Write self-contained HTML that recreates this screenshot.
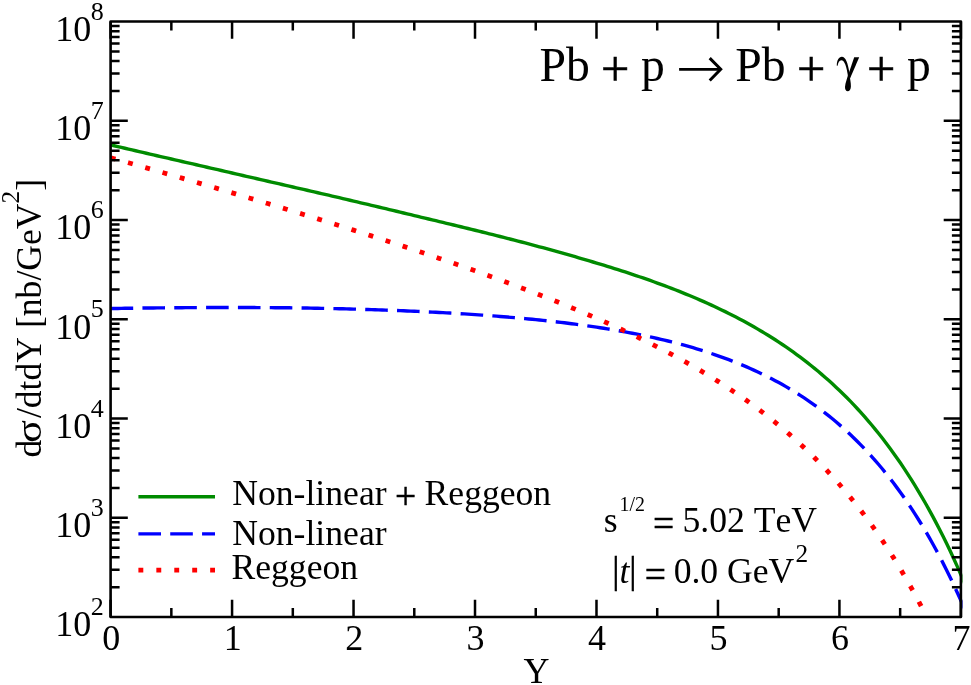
<!DOCTYPE html>
<html><head><meta charset="utf-8"><title>plot</title>
<style>html,body{margin:0;padding:0;background:#fff;}body{width:971px;height:685px;overflow:hidden;font-family:"Liberation Serif",serif;}svg{display:block;will-change:transform;}</style>
</head><body>
<svg width="971" height="685" viewBox="0 0 971 685">
<rect width="971" height="685" fill="#fff"/>
<defs><clipPath id="cp"><rect x="108.60" y="20.55" width="853.90" height="597.45"/></clipPath></defs>
<g clip-path="url(#cp)" fill="none" stroke-linejoin="round">
<path d="M110.60 144.93 L114.17 145.76 L117.75 146.59 L121.32 147.43 L124.89 148.26 L128.47 149.09 L132.04 149.92 L135.61 150.75 L139.19 151.58 L142.76 152.41 L146.33 153.24 L149.91 154.07 L153.48 154.89 L157.05 155.72 L160.63 156.55 L164.20 157.37 L167.77 158.20 L171.35 159.02 L174.92 159.84 L178.49 160.67 L182.07 161.49 L185.64 162.31 L189.21 163.13 L192.79 163.95 L196.36 164.77 L199.93 165.59 L203.51 166.41 L207.08 167.23 L210.65 168.05 L214.23 168.88 L217.80 169.71 L221.37 170.53 L224.95 171.36 L228.52 172.18 L232.09 173.01 L235.66 173.83 L239.24 174.65 L242.81 175.48 L246.38 176.30 L249.96 177.12 L253.53 177.95 L257.10 178.77 L260.68 179.59 L264.25 180.41 L267.82 181.24 L271.40 182.06 L274.97 182.88 L278.54 183.70 L282.12 184.52 L285.69 185.34 L289.26 186.17 L292.84 186.99 L296.41 187.81 L299.98 188.63 L303.56 189.45 L307.13 190.27 L310.70 191.10 L314.28 191.92 L317.85 192.74 L321.42 193.56 L325.00 194.39 L328.57 195.21 L332.14 196.04 L335.72 196.88 L339.29 197.72 L342.86 198.56 L346.44 199.41 L350.01 200.25 L353.58 201.09 L357.16 201.93 L360.73 202.78 L364.30 203.62 L367.88 204.47 L371.45 205.32 L375.02 206.16 L378.60 207.01 L382.17 207.86 L385.74 208.71 L389.32 209.56 L392.89 210.41 L396.46 211.27 L400.04 212.12 L403.61 212.98 L407.18 213.84 L410.76 214.69 L414.33 215.55 L417.90 216.42 L421.48 217.28 L425.05 218.15 L428.62 219.01 L432.20 219.87 L435.77 220.72 L439.34 221.58 L442.92 222.43 L446.49 223.29 L450.06 224.15 L453.64 225.01 L457.21 225.88 L460.78 226.75 L464.36 227.62 L467.93 228.49 L471.50 229.37 L475.08 230.25 L478.65 231.13 L482.22 232.02 L485.79 232.91 L489.37 233.80 L492.94 234.70 L496.51 235.60 L500.09 236.50 L503.66 237.41 L507.23 238.32 L510.81 239.24 L514.38 240.16 L517.95 241.09 L521.53 242.02 L525.10 242.96 L528.67 243.90 L532.25 244.85 L535.82 245.81 L539.39 246.77 L542.97 247.73 L546.54 248.70 L550.11 249.68 L553.69 250.67 L557.26 251.66 L560.83 252.66 L564.41 253.66 L567.98 254.68 L571.55 255.70 L575.13 256.73 L578.70 257.77 L582.27 258.82 L585.85 259.87 L589.42 260.94 L592.99 262.00 L596.57 263.06 L600.14 264.14 L603.71 265.22 L607.29 266.32 L610.86 267.43 L614.43 268.55 L618.01 269.68 L621.58 270.82 L625.15 271.98 L628.73 273.15 L632.30 274.33 L635.87 275.53 L639.45 276.74 L643.02 277.97 L646.59 279.21 L650.17 280.47 L653.74 281.75 L657.31 283.04 L660.89 284.35 L664.46 285.67 L668.03 287.02 L671.61 288.39 L675.18 289.77 L678.75 291.18 L682.33 292.60 L685.90 294.05 L689.47 295.52 L693.05 297.02 L696.62 298.53 L700.19 300.07 L703.77 301.64 L707.34 303.24 L710.91 304.86 L714.49 306.51 L718.06 308.19 L721.63 309.91 L725.20 311.65 L728.78 313.42 L732.35 315.23 L735.92 317.07 L739.50 318.94 L743.07 320.85 L746.64 322.79 L750.22 324.77 L753.79 326.79 L757.36 328.86 L760.94 330.96 L764.51 333.10 L768.08 335.29 L771.66 337.52 L775.23 339.80 L778.80 342.13 L782.38 344.50 L785.95 346.93 L789.52 349.41 L793.10 351.94 L796.67 354.52 L800.24 357.17 L803.82 359.87 L807.39 362.63 L810.96 365.46 L814.54 368.35 L818.11 371.31 L821.68 374.33 L825.26 377.43 L828.83 380.59 L832.40 383.83 L835.98 387.14 L839.55 390.52 L843.12 393.99 L846.70 397.55 L850.27 401.18 L853.84 404.91 L857.42 408.73 L860.99 412.65 L864.56 416.66 L868.14 420.77 L871.71 424.99 L875.28 429.31 L878.86 433.75 L882.43 438.29 L886.00 442.95 L889.58 447.73 L893.15 452.64 L896.72 457.67 L900.30 462.84 L903.87 468.14 L907.44 473.57 L911.02 479.16 L914.59 484.88 L918.16 490.76 L921.74 496.80 L925.31 503.00 L928.88 509.37 L932.46 515.90 L936.03 522.61 L939.60 529.51 L943.18 536.59 L946.75 543.86 L950.32 551.33 L953.90 559.01 L957.47 566.90 L961.04 575.00 L964.62 583.35 L968.19 591.92" stroke="#008b00" stroke-width="3.4"/>
<path d="M110.60 308.55 L114.17 308.49 L117.75 308.43 L121.32 308.37 L124.89 308.32 L128.47 308.26 L132.04 308.21 L135.61 308.16 L139.19 308.12 L142.76 308.07 L146.33 308.03 L149.91 307.98 L153.48 307.94 L157.05 307.90 L160.63 307.87 L164.20 307.83 L167.77 307.80 L171.35 307.77 L174.92 307.74 L178.49 307.71 L182.07 307.69 L185.64 307.66 L189.21 307.64 L192.79 307.62 L196.36 307.60 L199.93 307.59 L203.51 307.57 L207.08 307.56 L210.65 307.55 L214.23 307.53 L217.80 307.53 L221.37 307.52 L224.95 307.52 L228.52 307.51 L232.09 307.51 L235.66 307.52 L239.24 307.52 L242.81 307.53 L246.38 307.54 L249.96 307.55 L253.53 307.56 L257.10 307.58 L260.68 307.59 L264.25 307.61 L267.82 307.64 L271.40 307.66 L274.97 307.69 L278.54 307.72 L282.12 307.75 L285.69 307.78 L289.26 307.82 L292.84 307.86 L296.41 307.90 L299.98 307.94 L303.56 308.00 L307.13 308.06 L310.70 308.12 L314.28 308.19 L317.85 308.26 L321.42 308.33 L325.00 308.40 L328.57 308.48 L332.14 308.56 L335.72 308.64 L339.29 308.72 L342.86 308.81 L346.44 308.90 L350.01 308.99 L353.58 309.09 L357.16 309.19 L360.73 309.29 L364.30 309.40 L367.88 309.51 L371.45 309.62 L375.02 309.74 L378.60 309.86 L382.17 309.98 L385.74 310.11 L389.32 310.24 L392.89 310.37 L396.46 310.51 L400.04 310.65 L403.61 310.79 L407.18 310.94 L410.76 311.09 L414.33 311.25 L417.90 311.41 L421.48 311.58 L425.05 311.74 L428.62 311.92 L432.20 312.10 L435.77 312.28 L439.34 312.47 L442.92 312.66 L446.49 312.85 L450.06 313.05 L453.64 313.26 L457.21 313.47 L460.78 313.69 L464.36 313.91 L467.93 314.14 L471.50 314.37 L475.08 314.61 L478.65 314.85 L482.22 315.10 L485.79 315.36 L489.37 315.62 L492.94 315.89 L496.51 316.16 L500.09 316.44 L503.66 316.73 L507.23 317.03 L510.81 317.33 L514.38 317.64 L517.95 317.95 L521.53 318.28 L525.10 318.61 L528.67 318.95 L532.25 319.29 L535.82 319.65 L539.39 320.01 L542.97 320.39 L546.54 320.77 L550.11 321.16 L553.69 321.56 L557.26 321.97 L560.83 322.38 L564.41 322.81 L567.98 323.25 L571.55 323.70 L575.13 324.16 L578.70 324.64 L582.27 325.12 L585.85 325.61 L589.42 326.12 L592.99 326.64 L596.57 327.17 L600.14 327.71 L603.71 328.27 L607.29 328.84 L610.86 329.43 L614.43 330.03 L618.01 330.64 L621.58 331.27 L625.15 331.91 L628.73 332.58 L632.30 333.25 L635.87 333.95 L639.45 334.66 L643.02 335.39 L646.59 336.13 L650.17 336.90 L653.74 337.68 L657.31 338.49 L660.89 339.31 L664.46 340.16 L668.03 341.02 L671.61 341.91 L675.18 342.82 L678.75 343.76 L682.33 344.72 L685.90 345.70 L689.47 346.71 L693.05 347.74 L696.62 348.80 L700.19 349.89 L703.77 351.01 L707.34 352.15 L710.91 353.33 L714.49 354.53 L718.06 355.77 L721.63 357.04 L725.20 358.34 L728.78 359.68 L732.35 361.05 L735.92 362.46 L739.50 363.90 L743.07 365.39 L746.64 366.91 L750.22 368.47 L753.79 370.08 L757.36 371.73 L760.94 373.42 L764.51 375.16 L768.08 376.94 L771.66 378.77 L775.23 380.66 L778.80 382.59 L782.38 384.57 L785.95 386.61 L789.52 388.71 L793.10 390.86 L796.67 393.07 L800.24 395.34 L803.82 397.67 L807.39 400.07 L810.96 402.53 L814.54 405.06 L818.11 407.66 L821.68 410.34 L825.26 413.08 L828.83 415.90 L832.40 418.80 L835.98 421.78 L839.55 424.85 L843.12 428.00 L846.70 431.23 L850.27 434.56 L853.84 437.98 L857.42 441.50 L860.99 445.11 L864.56 448.83 L868.14 452.65 L871.71 456.57 L875.28 460.61 L878.86 464.76 L882.43 469.03 L886.00 473.42 L889.58 477.94 L893.15 482.58 L896.72 487.36 L900.30 492.27 L903.87 497.32 L907.44 502.51 L911.02 507.85 L914.59 513.34 L918.16 519.00 L921.74 524.81 L925.31 530.79 L928.88 536.94 L932.46 543.26 L936.03 549.77 L939.60 556.46 L943.18 563.35 L946.75 570.43 L950.32 577.72 L953.90 585.22 L957.47 592.94 L961.04 600.87 L964.62 609.04 L968.19 617.44" stroke="#0000ff" stroke-width="3.4" stroke-dasharray="22.6 9.23"/>
<path d="M110.60 157.74 L114.17 158.75 L117.75 159.76 L121.32 160.77 L124.89 161.78 L128.47 162.79 L132.04 163.80 L135.61 164.82 L139.19 165.84 L142.76 166.85 L146.33 167.87 L149.91 168.90 L153.48 169.92 L157.05 170.94 L160.63 171.97 L164.20 173.00 L167.77 174.03 L171.35 175.06 L174.92 176.09 L178.49 177.13 L182.07 178.16 L185.64 179.20 L189.21 180.24 L192.79 181.28 L196.36 182.32 L199.93 183.37 L203.51 184.42 L207.08 185.46 L210.65 186.51 L214.23 187.57 L217.80 188.62 L221.37 189.67 L224.95 190.73 L228.52 191.79 L232.09 192.85 L235.66 193.91 L239.24 194.98 L242.81 196.04 L246.38 197.11 L249.96 198.18 L253.53 199.25 L257.10 200.33 L260.68 201.40 L264.25 202.48 L267.82 203.56 L271.40 204.64 L274.97 205.73 L278.54 206.81 L282.12 207.90 L285.69 208.99 L289.26 210.08 L292.84 211.18 L296.41 212.27 L299.98 213.37 L303.56 214.47 L307.13 215.58 L310.70 216.68 L314.28 217.79 L317.85 218.90 L321.42 220.02 L325.00 221.13 L328.57 222.25 L332.14 223.37 L335.72 224.49 L339.29 225.62 L342.86 226.75 L346.44 227.88 L350.01 229.01 L353.58 230.15 L357.16 231.29 L360.73 232.43 L364.30 233.58 L367.88 234.73 L371.45 235.88 L375.02 237.03 L378.60 238.19 L382.17 239.35 L385.74 240.51 L389.32 241.68 L392.89 242.85 L396.46 244.02 L400.04 245.20 L403.61 246.38 L407.18 247.57 L410.76 248.76 L414.33 249.95 L417.90 251.14 L421.48 252.34 L425.05 253.55 L428.62 254.75 L432.20 255.96 L435.77 257.18 L439.34 258.40 L442.92 259.62 L446.49 260.85 L450.06 262.09 L453.64 263.33 L457.21 264.57 L460.78 265.82 L464.36 267.07 L467.93 268.33 L471.50 269.59 L475.08 270.86 L478.65 272.13 L482.22 273.41 L485.79 274.70 L489.37 275.99 L492.94 277.28 L496.51 278.59 L500.09 279.90 L503.66 281.21 L507.23 282.54 L510.81 283.86 L514.38 285.20 L517.95 286.54 L521.53 287.89 L525.10 289.25 L528.67 290.62 L532.25 291.99 L535.82 293.37 L539.39 294.76 L542.97 296.15 L546.54 297.56 L550.11 298.97 L553.69 300.40 L557.26 301.83 L560.83 303.27 L564.41 304.72 L567.98 306.19 L571.55 307.66 L575.13 309.14 L578.70 310.63 L582.27 312.14 L585.85 313.65 L589.42 315.18 L592.99 316.72 L596.57 318.27 L600.14 319.84 L603.71 321.41 L607.29 323.00 L610.86 324.61 L614.43 326.23 L618.01 327.86 L621.58 329.51 L625.15 331.17 L628.73 332.85 L632.30 334.54 L635.87 336.25 L639.45 337.98 L643.02 339.72 L646.59 341.48 L650.17 343.26 L653.74 345.06 L657.31 346.88 L660.89 348.72 L664.46 350.58 L668.03 352.46 L671.61 354.36 L675.18 356.29 L678.75 358.24 L682.33 360.21 L685.90 362.20 L689.47 364.22 L693.05 366.27 L696.62 368.34 L700.19 370.44 L703.77 372.56 L707.34 374.72 L710.91 376.90 L714.49 379.12 L718.06 381.36 L721.63 383.64 L725.20 385.95 L728.78 388.30 L732.35 390.68 L735.92 393.09 L739.50 395.54 L743.07 398.03 L746.64 400.56 L750.22 403.13 L753.79 405.74 L757.36 408.40 L760.94 411.09 L764.51 413.84 L768.08 416.62 L771.66 419.46 L775.23 422.35 L778.80 425.28 L782.38 428.27 L785.95 431.31 L789.52 434.41 L793.10 437.56 L796.67 440.77 L800.24 444.04 L803.82 447.37 L807.39 450.77 L810.96 454.23 L814.54 457.76 L818.11 461.36 L821.68 465.03 L825.26 468.77 L828.83 472.59 L832.40 476.48 L835.98 480.46 L839.55 484.52 L843.12 488.66 L846.70 492.89 L850.27 497.21 L853.84 501.63 L857.42 506.14 L860.99 510.74 L864.56 515.45 L868.14 520.26 L871.71 525.18 L875.28 530.21 L878.86 535.35 L882.43 540.61 L886.00 545.99 L889.58 551.49 L893.15 557.12 L896.72 562.88 L900.30 568.78 L903.87 574.81 L907.44 580.99 L911.02 587.32 L914.59 593.79 L918.16 600.43 L921.74 607.22 L925.31 614.18 L928.88 621.31 L932.46 628.62 L936.03 636.10 L939.60 643.78 L943.18 651.64 L946.75 659.70 L950.32 667.97 L953.90 676.44 L957.47 685.13 L961.04 694.05 L964.62 703.19 L968.19 712.56" stroke="#ff0000" stroke-width="4.8" stroke-dasharray="4.9 13.04" stroke-dashoffset="-0.15"/>
</g>
<path d="M110.60 617.00 V599.80 M110.60 21.55 V38.75 M171.34 617.00 V608.00 M171.34 21.55 V30.55 M232.07 617.00 V599.80 M232.07 21.55 V38.75 M292.81 617.00 V608.00 M292.81 21.55 V30.55 M353.54 617.00 V599.80 M353.54 21.55 V38.75 M414.28 617.00 V608.00 M414.28 21.55 V30.55 M475.01 617.00 V599.80 M475.01 21.55 V38.75 M535.75 617.00 V608.00 M535.75 21.55 V30.55 M596.49 617.00 V599.80 M596.49 21.55 V38.75 M657.22 617.00 V608.00 M657.22 21.55 V30.55 M717.96 617.00 V599.80 M717.96 21.55 V38.75 M778.69 617.00 V608.00 M778.69 21.55 V30.55 M839.43 617.00 V599.80 M839.43 21.55 V38.75 M900.16 617.00 V608.00 M900.16 21.55 V30.55 M960.90 617.00 V599.80 M960.90 21.55 V38.75 M110.60 587.13 H119.60 M960.90 587.13 H951.90 M110.60 569.65 H119.60 M960.90 569.65 H951.90 M110.60 557.25 H119.60 M960.90 557.25 H951.90 M110.60 547.63 H119.60 M960.90 547.63 H951.90 M110.60 539.77 H119.60 M960.90 539.77 H951.90 M110.60 533.13 H119.60 M960.90 533.13 H951.90 M110.60 527.38 H119.60 M960.90 527.38 H951.90 M110.60 522.30 H119.60 M960.90 522.30 H951.90 M110.60 517.76 H127.80 M960.90 517.76 H943.70 M110.60 487.88 H119.60 M960.90 487.88 H951.90 M110.60 470.41 H119.60 M960.90 470.41 H951.90 M110.60 458.01 H119.60 M960.90 458.01 H951.90 M110.60 448.39 H119.60 M960.90 448.39 H951.90 M110.60 440.53 H119.60 M960.90 440.53 H951.90 M110.60 433.89 H119.60 M960.90 433.89 H951.90 M110.60 428.13 H119.60 M960.90 428.13 H951.90 M110.60 423.06 H119.60 M960.90 423.06 H951.90 M110.60 418.52 H127.80 M960.90 418.52 H943.70 M110.60 388.64 H119.60 M960.90 388.64 H951.90 M110.60 371.17 H119.60 M960.90 371.17 H951.90 M110.60 358.77 H119.60 M960.90 358.77 H951.90 M110.60 349.15 H119.60 M960.90 349.15 H951.90 M110.60 341.29 H119.60 M960.90 341.29 H951.90 M110.60 334.65 H119.60 M960.90 334.65 H951.90 M110.60 328.89 H119.60 M960.90 328.89 H951.90 M110.60 323.82 H119.60 M960.90 323.82 H951.90 M110.60 319.28 H127.80 M960.90 319.28 H943.70 M110.60 289.40 H119.60 M960.90 289.40 H951.90 M110.60 271.92 H119.60 M960.90 271.92 H951.90 M110.60 259.53 H119.60 M960.90 259.53 H951.90 M110.60 249.91 H119.60 M960.90 249.91 H951.90 M110.60 242.05 H119.60 M960.90 242.05 H951.90 M110.60 235.41 H119.60 M960.90 235.41 H951.90 M110.60 229.65 H119.60 M960.90 229.65 H951.90 M110.60 224.57 H119.60 M960.90 224.57 H951.90 M110.60 220.03 H127.80 M960.90 220.03 H943.70 M110.60 190.16 H119.60 M960.90 190.16 H951.90 M110.60 172.68 H119.60 M960.90 172.68 H951.90 M110.60 160.28 H119.60 M960.90 160.28 H951.90 M110.60 150.67 H119.60 M960.90 150.67 H951.90 M110.60 142.81 H119.60 M960.90 142.81 H951.90 M110.60 136.16 H119.60 M960.90 136.16 H951.90 M110.60 130.41 H119.60 M960.90 130.41 H951.90 M110.60 125.33 H119.60 M960.90 125.33 H951.90 M110.60 120.79 H127.80 M960.90 120.79 H943.70 M110.60 90.92 H119.60 M960.90 90.92 H951.90 M110.60 73.44 H119.60 M960.90 73.44 H951.90 M110.60 61.04 H119.60 M960.90 61.04 H951.90 M110.60 51.42 H119.60 M960.90 51.42 H951.90 M110.60 43.57 H119.60 M960.90 43.57 H951.90 M110.60 36.92 H119.60 M960.90 36.92 H951.90 M110.60 31.17 H119.60 M960.90 31.17 H951.90 M110.60 26.09 H119.60 M960.90 26.09 H951.90" stroke="#000" stroke-width="2.50" fill="none"/>
<rect x="110.60" y="21.55" width="850.30" height="595.45" fill="none" stroke="#000" stroke-width="2.60" stroke-linejoin="round"/>
<g font-family="'Liberation Serif', serif" fill="#000" style="font-kerning:none;font-variant-ligatures:none">
<text x="111.20" y="650" font-size="36" text-anchor="middle">0</text>
<text x="232.67" y="650" font-size="36" text-anchor="middle">1</text>
<text x="354.14" y="650" font-size="36" text-anchor="middle">2</text>
<text x="475.61" y="650" font-size="36" text-anchor="middle">3</text>
<text x="597.09" y="650" font-size="36" text-anchor="middle">4</text>
<text x="718.56" y="650" font-size="36" text-anchor="middle">5</text>
<text x="840.03" y="650" font-size="36" text-anchor="middle">6</text>
<text x="961.50" y="650" font-size="36" text-anchor="middle">7</text>
<text x="91.3" y="636.30" font-size="36" text-anchor="end">10</text>
<text x="90.8" y="615.20" font-size="26">2</text>
<text x="91.3" y="537.06" font-size="36" text-anchor="end">10</text>
<text x="90.8" y="515.96" font-size="26">3</text>
<text x="91.3" y="437.82" font-size="36" text-anchor="end">10</text>
<text x="90.8" y="416.72" font-size="26">4</text>
<text x="91.3" y="338.58" font-size="36" text-anchor="end">10</text>
<text x="90.8" y="317.48" font-size="26">5</text>
<text x="91.3" y="239.33" font-size="36" text-anchor="end">10</text>
<text x="90.8" y="218.23" font-size="26">6</text>
<text x="91.3" y="140.09" font-size="36" text-anchor="end">10</text>
<text x="90.8" y="118.99" font-size="26">7</text>
<text x="91.3" y="40.85" font-size="36" text-anchor="end">10</text>
<text x="90.8" y="19.75" font-size="26">8</text>
<text id="xlab" x="536.4" y="682.9" font-size="36" text-anchor="middle">Y</text>
<g transform="translate(40.5 457.5) rotate(-90)"><text id="ylab" x="0" y="0" font-size="35.62">d</text></g>
<g transform="translate(40.5 431.0) rotate(-90) scale(1.1846 1)"><text x="-10.01" y="0" font-size="35.62">σ</text></g>
<g transform="translate(40.5 418.1) rotate(-90)"><text x="0" y="0" font-size="35.62">/dtdY [nb/GeV<tspan font-size="25.3" dy="-21.3">2</tspan><tspan dy="21.3">]</tspan></text></g>
<text id="t1" x="539.5" y="81.4" font-size="47.6">Pb</text>
<text x="641.05" y="81.4" font-size="47.6">p</text>
<text id="t2" x="735.3" y="81.4" font-size="47.6">Pb</text>
<text id="t3" x="906.95" y="81.4" font-size="47.6">p</text>
<text x="601.04" y="85.50" font-size="50.30" stroke="#000" stroke-width="0.60">+</text>
<text x="797.04" y="85.50" font-size="50.30" stroke="#000" stroke-width="0.60">+</text>
<text x="867.04" y="85.50" font-size="50.30" stroke="#000" stroke-width="0.60">+</text>
<g><title>→</title>
<path d="M679.1 69.3 H721" stroke="#000" stroke-width="2.7" fill="none"/>
<path d="M709.7 58.1 L720.7 69.3 L709.7 80.5" stroke="#000" stroke-width="3" fill="none" stroke-linejoin="miter"/>
</g>
<g><title>γ</title>
<path d="M836.8 65.8 C836.8 60.5 838.8 56.8 841.8 56.8 C845.8 56.8 847.8 63 849.6 73.5 L848.3 78 C846.5 66 844.5 60.3 841.3 60.3 C839.3 60.3 838.2 62.5 837.6 65.8 Z"/>
<path d="M854.2 57.2 L859.2 57.2 L849.8 79 L848.0 75.5 Z"/>
<path d="M848.8 72 C850 78 851 83 850.9 86.5 C850.8 89.5 849.5 91.3 847.8 91.3 C846 91.3 844.9 89.6 845 87 C845.2 83 847.5 78 848.8 72 Z"/>
</g>
<text id="l1" x="232.3" y="505.1" font-size="35.62">Non-linear</text>
<text x="394.88" y="508.58" font-size="37.60" stroke="#000" stroke-width="0.45">+</text>
<text id="l1b" x="424.6" y="505.1" font-size="35.62">Reggeon</text>
<text id="l2" x="232.3" y="544.9" font-size="35.62">Non-linear</text>
<text id="l3" x="231.5" y="578.5" font-size="35.62">Reggeon</text>
<text id="a1" x="603.84" y="532.3" font-size="35.62">s</text>
<text x="619.45" y="511.10" font-size="19.9">1/2</text>
<text x="652.88" y="536.08" font-size="37.60" stroke="#000" stroke-width="0.45">=</text>
<text x="682.43" y="532.3" font-size="35.62">5.02 TeV</text>
<text x="612.09" y="583.18" font-size="38.60" stroke="#000" stroke-width="0.35">|</text>
<text x="628.94" y="583.18" font-size="38.60" stroke="#000" stroke-width="0.35">|</text>
<text id="a2" x="619.6" y="583.0" font-size="35.62" font-style="italic">t</text>
<text x="644.63" y="586.53" font-size="37.60" stroke="#000" stroke-width="0.45">=</text>
<text x="673.64" y="583.0" font-size="35.62">0.0 GeV</text>
<text x="795.5" y="561.90" font-size="25.3">2</text>
</g>
<g fill="none">
<path d="M138.4 496.8 H215" stroke="#008b00" stroke-width="3.4"/>
<path d="M138.4 533.9 H215" stroke="#0000ff" stroke-width="3.4" stroke-dasharray="22.6 9.23"/>
<path d="M138.4 570.2 H215" stroke="#ff0000" stroke-width="4.8" stroke-dasharray="4.9 13.04"/>
</g>
</svg>
</body></html>
